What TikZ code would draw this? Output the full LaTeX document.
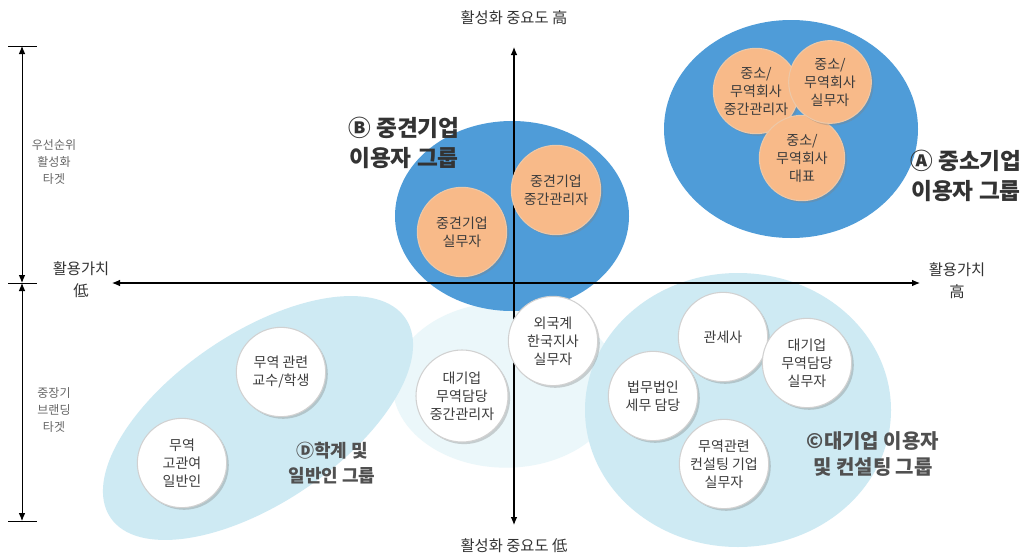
\documentclass[tikz,border=0pt]{standalone}
\usepackage{fontspec}
\setmainfont{Noto Sans CJK KR}
\usetikzlibrary{arrows.meta,shadows}
\definecolor{bigblue}{RGB}{79,156,216}
\definecolor{lightblue}{RGB}{206,234,243}
\definecolor{faintblue}{RGB}{235,247,250}
\definecolor{orangefill}{RGB}{248,186,137}
\definecolor{orangeedge}{RGB}{236,200,168}
\definecolor{txtgray}{RGB}{60,60,60}
\definecolor{labgray}{RGB}{80,80,80}
\begin{document}
\begin{tikzpicture}[x=0.75pt,y=-0.75pt,
  circbase/.style={circle,minimum size=67pt,inner sep=0pt,align=center,
    text=txtgray,font=\fontsize{10.5}{13.5}\selectfont,
    drop shadow={opacity=0.35,shadow xshift=1.6pt,shadow yshift=-1.6pt}},
  orangecirc/.style={circbase,fill=orangefill,draw=orangeedge,line width=0.8pt},
  whitecirc/.style={circbase,fill=white,draw=black!18,line width=0.8pt},
  grouplbl/.style={align=center,text=black!80,font=\fontsize{17}{22}\selectfont\bfseries},
  grouplblsmall/.style={align=center,text=labgray,font=\fontsize{13.5}{18.5}\selectfont\bfseries},
  axislbl/.style={align=center,text=black!80,font=\fontsize{11.5}{16.5}\selectfont},
  sidelbl/.style={align=center,text=black!60,font=\fontsize{9}{13}\selectfont},
  axisline/.style={line width=0.8pt,{Latex[length=6pt,width=5pt]}-{Latex[length=6pt,width=5pt]}},
  dimline/.style={line width=0.7pt,{Latex[length=6pt,width=5pt]}-{Latex[length=6pt,width=5pt]}},
  tick/.style={line width=0.7pt}]
\useasboundingbox (0,0) rectangle (1028,557);
\fill[white] (0,0) rectangle (1028,557);

% group ellipses
\fill[faintblue] (506,385) ellipse [x radius=85pt,y radius=62pt];
\fill[lightblue] (738,410) ellipse [x radius=114.75pt,y radius=102.75pt];
\fill[lightblue,rotate around={34:(258,418)}] (258,418) ellipse [x radius=133.5pt,y radius=63.75pt];
\fill[bigblue] (512,216) ellipse [x radius=87.75pt,y radius=71.25pt];
\fill[bigblue] (791,129) ellipse [x radius=95.25pt,y radius=81.75pt];

% axes
\coordinate (vtop) at (514,47);
\coordinate (vbot) at (514,525);
\coordinate (hleft) at (112,283);
\coordinate (hright) at (920,283);
\draw[axisline] (vbot) -- (vtop);
\draw[axisline] (hleft) -- (hright);
\node[axislbl] (toplbl) at (514,18) {활성화 중요도 高};
\node[axislbl] (botlbl) at (514,546) {활성화 중요도 低};
\node[axislbl] (lowlbl) at (81,280) {활용가치\\低};
\node[axislbl] (highlbl) at (957,281) {활용가치\\高};

% side dimension lines
\coordinate (d1) at (22,46);
\coordinate (d2) at (22,283);
\coordinate (d3) at (22,521);
\draw[tick] (8,46) -- (37,46);
\draw[tick] (8,283) -- (37,283);
\draw[tick] (8,521) -- (37,521);
\draw[dimline] (d1) -- (d2);
\draw[dimline] (d2) -- (d3);
\node[sidelbl] (prio) at (54,162) {우선순위\\활성화\\타겟};
\node[sidelbl] (brand) at (54,410) {중장기\\브랜딩\\타겟};

% orange circles
\node[orangecirc] (bstaff) at (462,232) {중견기업\\실무자};
\node[orangecirc] (bmgr) at (556,190) {중견기업\\중간관리자};
\node[orangecirc,minimum size=64pt] (amgr) at (756,91) {중소/\\무역회사\\중간관리자};
\node[orangecirc,minimum size=64pt] (aceo) at (802,158) {중소/\\무역회사\\대표};
\node[orangecirc,minimum size=62pt] (astaff) at (830,82) {중소/\\무역회사\\실무자};

% white circles
\node[whitecirc] (prof) at (281,372) {무역 관련\\교수/학생};
\node[whitecirc] (public) at (182,463) {무역\\고관여\\일반인};
\node[whitecirc,minimum size=69pt] (lmgr) at (462,396) {대기업\\무역담당\\중간관리자};
\node[whitecirc] (foreign) at (553,341) {외국계\\한국지사\\실무자};
\node[whitecirc] (customs) at (723,337) {관세사};
\node[whitecirc] (lstaff) at (807,363) {대기업\\무역담당\\실무자};
\node[whitecirc] (law) at (653,396) {법무법인\\세무 담당};
\node[whitecirc] (consult) at (724,464) {무역관련\\컨설팅 기업\\실무자};

% group labels
\node[grouplbl] (glb) at (404,143) {Ⓑ 중견기업\\이용자 그룹};
\node[grouplbl] (gla) at (966,176) {Ⓐ 중소기업\\이용자 그룹};
\node[grouplblsmall] (gld) at (332,463) {Ⓓ학계 및\\일반인 그룹};
\node[grouplblsmall,font=\fontsize{15}{19.5}\selectfont\bfseries] (glc) at (873,454) {©대기업 이용자\\및 컨설팅 그룹};
\end{tikzpicture}
\end{document}
